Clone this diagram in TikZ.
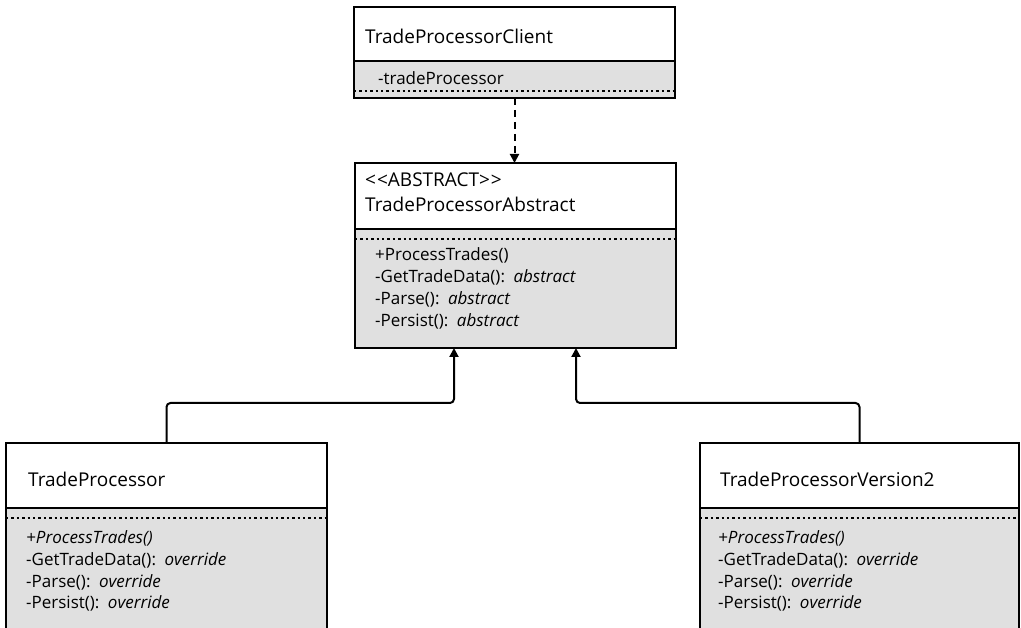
\documentclass[tikz,border=0pt]{standalone}
\usepackage{fontspec}
\setmainfont{Open Sans}
\usetikzlibrary{positioning,arrows.meta,calc}
\definecolor{bodygrey}{RGB}{224,224,224}
\tikzset{
    classhead/.style = {draw, line width=2.6pt, fill=white   , minimum width=321pt, anchor=north west, inner sep=0pt, outer sep=0pt},
    classbody/.style = {draw, line width=2.6pt, fill=bodygrey, minimum width=321pt, anchor=north     , inner sep=0pt, outer sep=0pt},
    classname/.style = {anchor=base west, inner sep=0pt, text width=300pt, align=left, font=\fontsize{19}{24.5}\selectfont},
    members/.style   = {anchor=base west, inner sep=0pt, text width=300pt, align=left, font=\fontsize{17}{22}\selectfont},
    dotsep/.style    = {line width=2.4pt, dash pattern=on 2.4pt off 3pt},
    uses/.style      = {line width=2pt, dash pattern=on 7pt off 5pt, -{Triangle[width=9pt,length=9pt]}},
    inherit/.style   = {line width=2pt, rounded corners=4pt, -{Triangle[width=9pt,length=9pt]}},
}
\begin{document}
\begin{tikzpicture}[x=1pt, y=-1pt]
    \clip (0,0) rectangle (1021,628);

    \node [classhead, minimum height=54pt] (clientHead) at (354,7) {};
    \node [classbody, minimum height=37pt] (clientBody) at (clientHead.south) {};
    \draw [dotsep] ([yshift=7pt]clientBody.south west) -- ([yshift=7pt]clientBody.south east);
    \node [classname] (clientName) at (365,44) {TradeProcessorClient};
    \node [members  ] (clientAttr) at (378,85) {-tradeProcessor};

    \node [classhead, minimum height=66pt ] (absHead) at (355,163) {};
    \node [classbody, minimum height=119pt] (absBody) at (absHead.south) {};
    \draw [dotsep] ([yshift=-10pt]absBody.north west) -- ([yshift=-10pt]absBody.north east);
    \node [classname] (absName) at (365,187) {<\kern1pt<ABSTRACT>\kern1pt>\\TradeProcessorAbstract};
    \node [members  ] (absOps) at (375,261) {+ProcessTrades()\\-GetTradeData(): \textit{abstract}\\-Parse(): \textit{abstract}\\-Persist(): \textit{abstract}};

    \node [classhead, minimum height=65pt ] (procHead) at (6,443) {};
    \node [classbody, minimum height=200pt] (procBody) at (procHead.south) {};
    \draw [dotsep] ([yshift=-10pt]procBody.north west) -- ([yshift=-10pt]procBody.north east);
    \node [classname] (procName) at (28,486) {TradeProcessor};
    \node [members  ] (procOps) at (26,543) {\textit{+ProcessTrades()}\\-GetTradeData(): \textit{override}\\-Parse(): \textit{override}\\-Persist(): \textit{override}};

    \node [classhead, minimum height=65pt , minimum width=319pt] (procTwoHead) at (700,443) {};
    \node [classbody, minimum height=200pt, minimum width=319pt] (procTwoBody) at (procTwoHead.south) {};
    \draw [dotsep] ([yshift=-10pt]procTwoBody.north west) -- ([yshift=-10pt]procTwoBody.north east);
    \node [classname] (procTwoName) at (720,486) {TradeProcessorVersion2};
    \node [members  ] (procTwoOps) at (718,543) {\textit{+ProcessTrades()}\\-GetTradeData(): \textit{override}\\-Parse(): \textit{override}\\-Persist(): \textit{override}};

    \coordinate (absInL) at ($(absBody.south west)+(99,0)$);
    \coordinate (absInR) at ($(absBody.south east)+(-100,0)$);

    \draw [uses   ] (clientBody.south) -- (clientBody.south |- absHead.north);
    \draw [inherit] (procHead.north) -- ++(0,-40) -| (absInL);
    \draw [inherit] (procTwoHead.north) -- ++(0,-40) -| (absInR);
\end{tikzpicture}
\end{document}
